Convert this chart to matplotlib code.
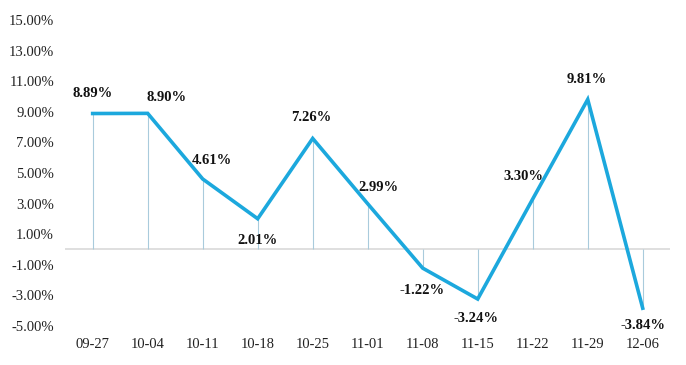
import numpy as np
import matplotlib.pyplot as plt

plt.rcParams['font.family'] = ['Liberation Serif', 'DejaVu Serif']

# weekly values (%)
dates = ['09-27', '10-04', '10-11', '10-18', '10-25', '11-01',
         '11-08', '11-15', '11-22', '11-29', '12-06']
values = [8.89, 8.90, 4.61, 2.01, 7.26, 2.99, -1.22, -3.24, 3.30, 9.81, -3.84]

# label offsets in pixels (dx, dy up)
label_offsets = [(0, 20), (19, 16), (9, 18), (0, -22), (-1, 21), (11, 16),
                 (-1, -22), (-2, -19), (-9, 23), (-1, 20), (0, -17)]

fig = plt.figure(figsize=(6.86, 3.65), dpi=100)
ax = fig.add_axes([0.095, 0.107, 0.882, 0.838])

x = np.arange(len(dates))
ax.axhline(0, color='#d9d9d9', lw=1.2, zorder=1)
ax.vlines(x, 0, values, color='#a9cbdc', lw=0.8, zorder=2)
ax.plot(x, values, color='#1ca8dd', lw=2.6, solid_joinstyle='miter', zorder=3)

for xi, v, (dx, dy) in zip(x, values, label_offsets):
    ax.annotate(f'{v:.2f}%', (xi, v), xytext=(dx * 0.72, dy * 0.72),
                textcoords='offset points', ha='center', va='center',
                fontsize=10.5, fontweight='bold', color='#111111')

ax.set_xlim(-0.5, 10.5)
ax.set_ylim(-5, 15)
ax.set_yticks(np.arange(-5, 16, 2))
ax.set_yticklabels([f'{t:.2f}%' for t in np.arange(-5, 16, 2)])
ax.set_xticks(x)
ax.set_xticklabels(dates)
ax.tick_params(axis='both', length=0, labelsize=10.5, colors='#222222')
ax.tick_params(axis='x', pad=9)
ax.tick_params(axis='y', pad=8)
for s in ax.spines.values():
    s.set_visible(False)

plt.savefig('out.png', dpi=100)
